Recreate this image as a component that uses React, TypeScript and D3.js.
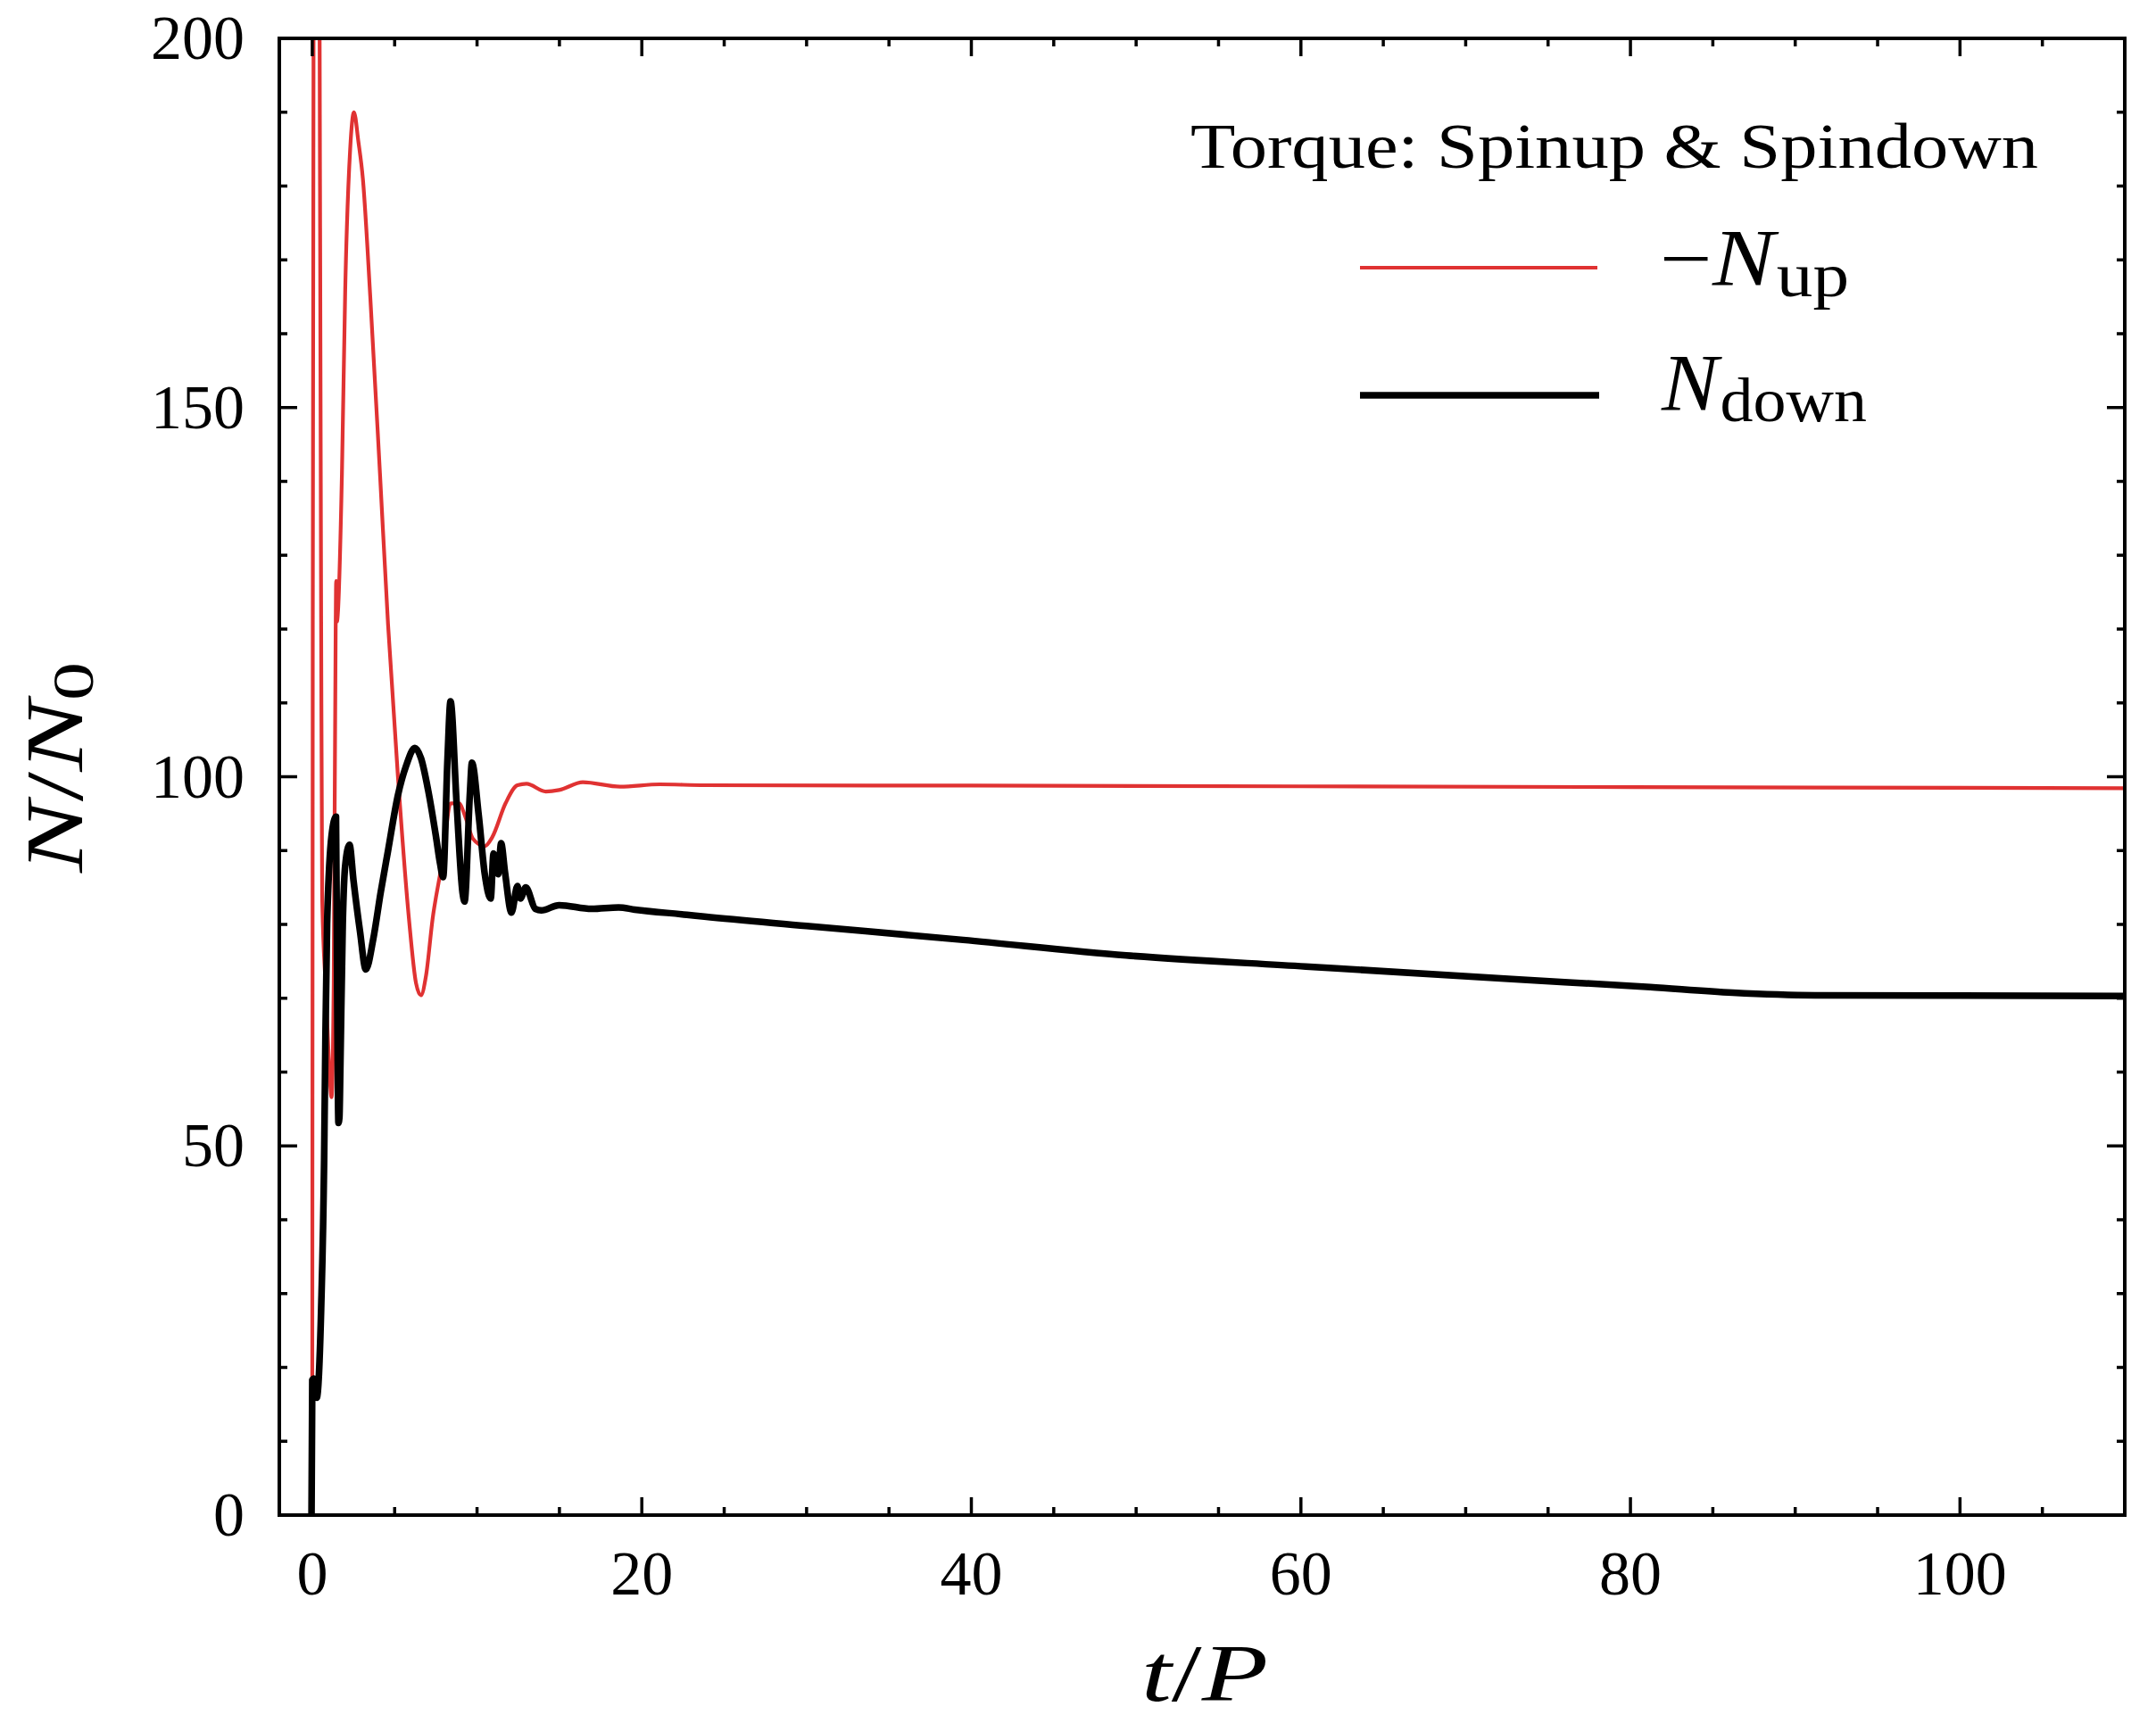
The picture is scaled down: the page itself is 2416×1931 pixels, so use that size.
import React from "react";
import * as d3 from "d3";

const W = 2416;
const H = 1931;

// -N_up series (t/P, N/N0)
const tUp = [0.0, 0.03, 0.1, 0.25, 0.4, 0.47, 0.54, 0.6, 0.8, 1.0, 1.17, 1.3, 1.42, 1.45, 1.5, 1.55, 1.8, 2.0, 2.3, 2.53, 2.8, 3.07, 3.52, 4.11, 4.6, 5.2, 5.87, 6.3, 6.59, 6.9, 7.3, 7.94, 8.39, 8.9, 9.3, 9.75, 10.47, 10.92, 11.73, 12.45, 13.0, 14.17, 14.98, 16.42, 18.68, 21.1, 23.8, 40, 60, 80, 100, 110];
const nUp = [18, 120, 240, 300, 240, 180, 120, 84, 72, 62, 56.6, 72, 120, 126.5, 121, 122, 141, 166, 185, 190, 186, 181, 165, 141, 120.6, 100, 80.7, 72, 70.4, 73, 80.7, 89.2, 96.4, 96.4, 94.5, 91.6, 90.6, 91.8, 96.4, 98.85, 99.05, 98.0, 98.2, 99.25, 98.65, 98.97, 98.85, 98.8, 98.7, 98.6, 98.5, 98.45];

// N_down series
const tDown = [-0.05, 0.0, 0.1, 0.27, 0.54, 0.72, 0.8, 0.9, 1.17, 1.44, 1.5, 1.59, 1.65, 1.7, 1.85, 2.0, 2.26, 2.5, 2.9, 3.25, 3.7, 4.15, 4.6, 5.2, 5.7, 6.23, 6.6, 7.03, 7.5, 7.76, 7.94, 8.21, 8.39, 8.76, 9.12, 9.24, 9.57, 9.69, 10.1, 10.47, 10.83, 11.0, 11.28, 11.46, 11.7, 12.09, 12.45, 12.63, 12.96, 13.54, 13.9, 14.98, 16.96, 18.59, 19.58, 22.74, 23.8, 30, 39.5, 49.4, 60.3, 72.8, 81.2, 86.2, 91.2, 100, 110];
const nDown = [-2, 18.3, 18.5, 15.9, 28, 48.1, 65, 80, 92, 94.6, 75, 53.1, 54, 60, 80, 88, 90.8, 86, 79, 73.9, 78, 84.3, 90, 97.5, 101.5, 103.9, 102.5, 98.2, 92, 88.2, 86.4, 102.6, 110.2, 96.4, 84.3, 83.1, 97.9, 101.9, 94.8, 86.8, 83.5, 89.6, 86.8, 91.0, 87, 81.6, 85.2, 83.5, 85.0, 82.1, 81.9, 82.6, 82.1, 82.3, 82.0, 81.3, 81.05, 79.8, 77.9, 75.8, 74.3, 72.6, 71.5, 70.75, 70.4, 70.35, 70.3];

const xMajor = [0, 20, 40, 60, 80, 100];
const xMinor = d3.range(5, 111, 5).filter((v) => v % 20 !== 0);
const yMajor = [0, 50, 100, 150, 200];
const yMinor = d3.range(10, 200, 10).filter((v) => v % 50 !== 0);

const RED = "#e03232";
const FONT = "'Liberation Serif', 'DejaVu Serif', serif";

export default function App() {
  const x = d3.scaleLinear().domain([-2, 110]).range([313, 2381]);
  const y = d3.scaleLinear().domain([0, 200]).range([1698, 43]);
  const [x0, x1] = x.range();
  const [y0, y1] = y.range();

  const line = d3
    .line<[number, number]>()
    .x((d) => x(d[0]))
    .y((d) => y(d[1]))
    .curve(d3.curveMonotoneX);

  const upPts = tUp.map((t, i) => [t, nUp[i]] as [number, number]);
  const downPts = tDown.map((t, i) => [t, nDown[i]] as [number, number]);

  const majLen = 20;
  const minLen = 9;
  const tickW = 3.5;

  return (
    <svg
      width={W}
      height={H}
      viewBox={`0 0 ${W} ${H}`}
      style={{ position: "absolute", left: 0, top: 0, background: "#fff" }}
    >
      <defs>
        <clipPath id="plotclip">
          <rect x={x0} y={y1} width={x1 - x0} height={y0 - y1} />
        </clipPath>
      </defs>
      <rect x={0} y={0} width={W} height={H} fill="#fff" />

      <g clipPath="url(#plotclip)">
        <path d={line(upPts) || ""} fill="none" stroke={RED} strokeWidth={4.2} strokeLinejoin="round" />
        <path d={line(downPts) || ""} fill="none" stroke="#000" strokeWidth={7.5} strokeLinejoin="round" strokeLinecap="round" />
      </g>

      {/* ticks */}
      <g stroke="#000" strokeWidth={tickW}>
        {xMajor.map((v) => (
          <g key={"xM" + v}>
            <line x1={x(v)} x2={x(v)} y1={y0} y2={y0 - majLen} />
            <line x1={x(v)} x2={x(v)} y1={y1} y2={y1 + majLen} />
          </g>
        ))}
        {xMinor.map((v) => (
          <g key={"xm" + v}>
            <line x1={x(v)} x2={x(v)} y1={y0} y2={y0 - minLen} />
            <line x1={x(v)} x2={x(v)} y1={y1} y2={y1 + minLen} />
          </g>
        ))}
        {yMajor.map((v) => (
          <g key={"yM" + v}>
            <line x1={x0} x2={x0 + majLen} y1={y(v)} y2={y(v)} />
            <line x1={x1} x2={x1 - majLen} y1={y(v)} y2={y(v)} />
          </g>
        ))}
        {yMinor.map((v) => (
          <g key={"ym" + v}>
            <line x1={x0} x2={x0 + minLen} y1={y(v)} y2={y(v)} />
            <line x1={x1} x2={x1 - minLen} y1={y(v)} y2={y(v)} />
          </g>
        ))}
      </g>

      {/* frame */}
      <rect x={x0} y={y1} width={x1 - x0} height={y0 - y1} fill="none" stroke="#000" strokeWidth={4} />

      {/* tick labels */}
      <g fontFamily={FONT} fontSize={70} fill="#000">
        {xMajor.map((v) => (
          <text key={"xl" + v} x={x(v)} y={1787} textAnchor="middle">
            {v}
          </text>
        ))}
        {yMajor.map((v) => (
          <text key={"yl" + v} x={274} y={y(v) + 23} textAnchor="end">
            {v}
          </text>
        ))}
      </g>

      {/* axis titles */}
      <text x={1279} y={1906} fontFamily={FONT} fontSize={90} textLength={142} lengthAdjust="spacingAndGlyphs">
        <tspan fontStyle="italic">t</tspan>
        <tspan>/</tspan>
        <tspan fontStyle="italic">P</tspan>
      </text>
      <g transform="translate(92,978) rotate(-90)">
        <text x={0} y={0} fontFamily={FONT} fontSize={92} textLength={236} lengthAdjust="spacingAndGlyphs">
          <tspan fontStyle="italic">N</tspan>
          <tspan>/</tspan>
          <tspan fontStyle="italic">N</tspan>
          <tspan fontSize={66} dy={12}>0</tspan>
        </text>
      </g>

      {/* legend */}
      <text x={1334} y={188} fontFamily={FONT} fontSize={72} textLength={950} lengthAdjust="spacingAndGlyphs">
        Torque:  Spinup &amp; Spindown
      </text>
      <line x1={1524} x2={1790} y1={300} y2={300} stroke={RED} strokeWidth={4.2} />
      <line x1={1524} x2={1792} y1={443} y2={443} stroke="#000" strokeWidth={7.5} />
      <text x={1860} y={320} fontFamily={FONT} fontSize={90} textLength={212} lengthAdjust="spacingAndGlyphs">
        <tspan>−</tspan>
        <tspan fontStyle="italic">N</tspan>
        <tspan fontSize={70} dy={12} dx={2}>up</tspan>
      </text>
      <text x={1862} y={460} fontFamily={FONT} fontSize={90} textLength={230} lengthAdjust="spacingAndGlyphs">
        <tspan fontStyle="italic">N</tspan>
        <tspan fontSize={70} dy={12} dx={2}>down</tspan>
      </text>
    </svg>
  );
}
